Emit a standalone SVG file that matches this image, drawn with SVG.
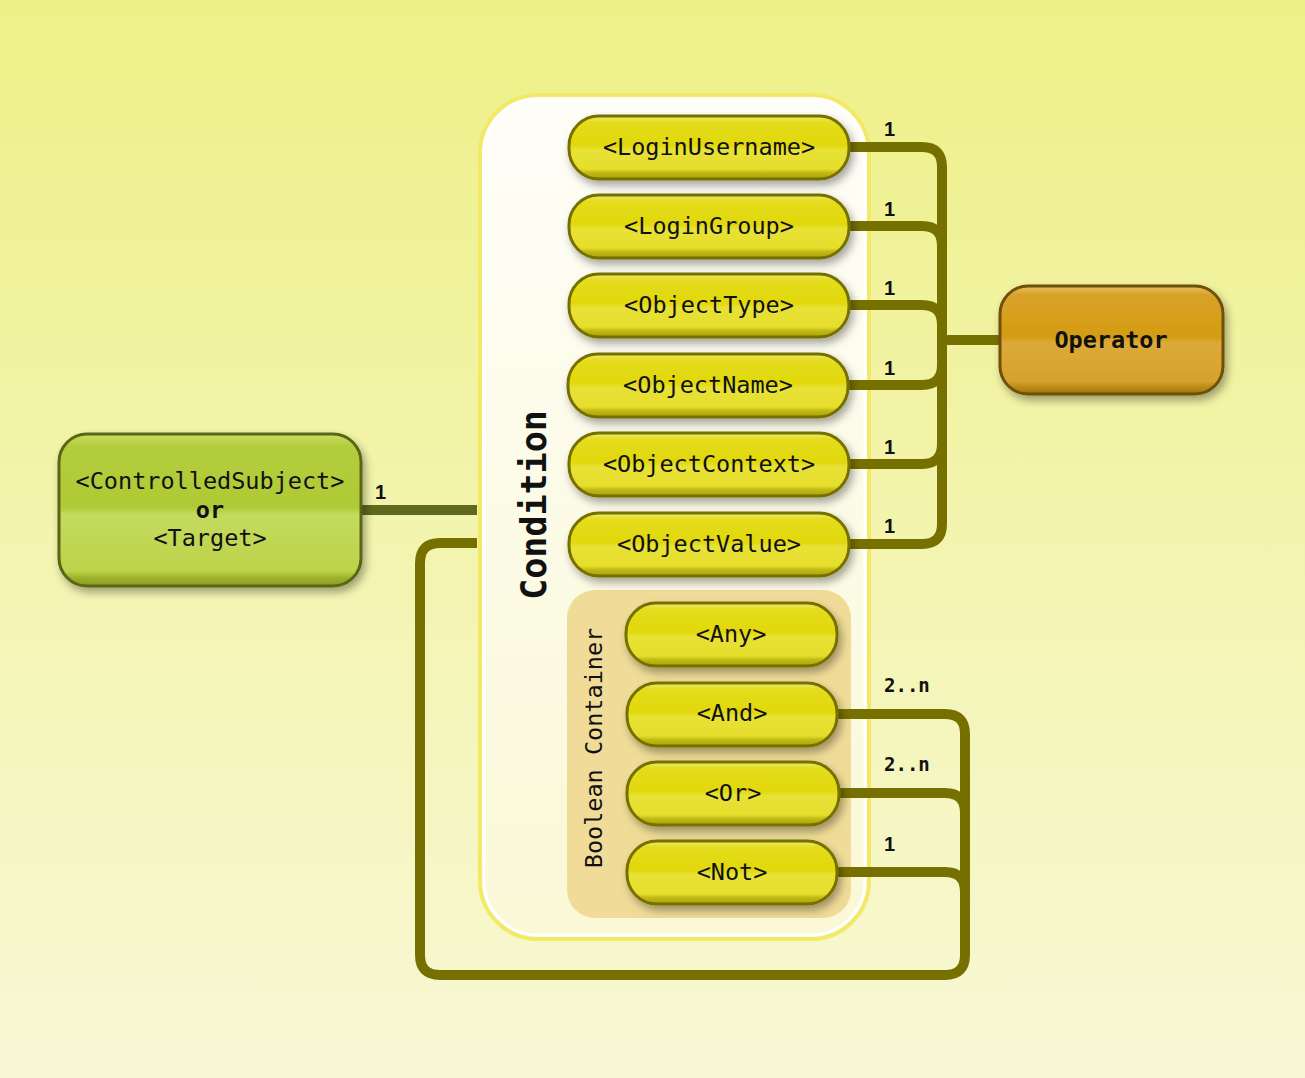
<svg xmlns="http://www.w3.org/2000/svg" width="1305" height="1078" viewBox="0 0 1305 1078">
<defs>
<linearGradient id="bg" x1="0" y1="0" x2="0" y2="1">
<stop offset="0" stop-color="#eef087"/>
<stop offset="1" stop-color="#f8f8d6"/>
</linearGradient>
<linearGradient id="cond" x1="0" y1="0" x2="0" y2="1">
<stop offset="0" stop-color="#fefef8"/>
<stop offset="1" stop-color="#faf8d6"/>
</linearGradient>
<linearGradient id="gy" x1="0" y1="0" x2="0" y2="1">
<stop offset="0" stop-color="#eeea78"/>
<stop offset="0.1" stop-color="#e4dc1c"/>
<stop offset="0.47" stop-color="#e2d80c"/>
<stop offset="0.53" stop-color="#e8e236"/>
<stop offset="0.84" stop-color="#e6de2c"/>
<stop offset="0.9" stop-color="#c2ba14"/>
<stop offset="1" stop-color="#aaa208"/>
</linearGradient>
<linearGradient id="gg" x1="0" y1="0" x2="0" y2="1">
<stop offset="0" stop-color="#c6dc64"/>
<stop offset="0.08" stop-color="#b4cd3e"/>
<stop offset="0.48" stop-color="#b0ca34"/>
<stop offset="0.53" stop-color="#c4da5e"/>
<stop offset="0.9" stop-color="#bcd34a"/>
<stop offset="0.95" stop-color="#9cb02a"/>
<stop offset="1" stop-color="#8a9e20"/>
</linearGradient>
<linearGradient id="go" x1="0" y1="0" x2="0" y2="1">
<stop offset="0" stop-color="#e8c060"/>
<stop offset="0.08" stop-color="#d8a22a"/>
<stop offset="0.47" stop-color="#d49c12"/>
<stop offset="0.53" stop-color="#dcaa3a"/>
<stop offset="0.88" stop-color="#d6a22c"/>
<stop offset="0.94" stop-color="#b88a14"/>
<stop offset="1" stop-color="#9c740c"/>
</linearGradient>
<filter id="sh" x="-20%" y="-30%" width="140%" height="170%">
<feDropShadow dx="3" dy="5" stdDeviation="4" flood-color="#000" flood-opacity="0.35"/>
</filter>
<style>
.pill{fill:url(#gy);stroke:#767000;stroke-width:3;filter:url(#sh)}
.t{font-family:"DejaVu Sans Mono","Liberation Mono",monospace;font-size:23.5px;fill:#111;text-anchor:middle}
.b{font-weight:bold}
.lbl{font-family:"DejaVu Sans Mono","Liberation Mono",monospace;font-size:19px;font-weight:bold;fill:#111}
.one{font-family:"Liberation Sans",Arial,sans-serif;font-size:20px;font-weight:bold;fill:#111}
.wire{fill:none;stroke:#767000;stroke-width:10}
</style>
</defs>
<rect width="1305" height="1078" fill="url(#bg)"/>

<g id="condition-container">
<rect x="480" y="95" width="389" height="844" rx="58" fill="url(#cond)" stroke="#f2ea66" stroke-width="4"/>
<rect x="484" y="99" width="381" height="836" rx="54" fill="none" stroke="#ffffff" stroke-width="3"/>
<text class="t b" style="font-size:35px" transform="translate(546,505) rotate(-90)">Condition</text>
</g>

<g id="boolean-container">
<rect x="567" y="590" width="284" height="328" rx="28" fill="#f0dc98"/>
<text class="t" transform="translate(602,748) rotate(-90)">Boolean Container</text>
</g>

<g id="connectors">
<path class="wire" d="M849,147 H922 Q942,147 942,167 V340 H1001"/>
<path class="wire" d="M849,226 H922 Q942,226 942,246 V340"/>
<path class="wire" d="M849,305 H922 Q942,305 942,325 V340"/>
<path class="wire" d="M849,385 H922 Q942,385 942,365 V340"/>
<path class="wire" d="M849,464 H922 Q942,464 942,444 V340"/>
<path class="wire" d="M849,544 H922 Q942,544 942,524 V340"/>
<path class="wire" d="M837,714 H945 Q965,714 965,734 V955 Q965,975 945,975 H440 Q420,975 420,955 V563 Q420,543 440,543 H477"/>
<path class="wire" d="M839,793 H945 Q965,793 965,813 V900"/>
<path class="wire" d="M837,872 H945 Q965,872 965,892 V930"/>
<path d="M361,510 H477" fill="none" stroke="#5f6a1e" stroke-width="10"/>
<text class="one" x="884" y="136">1</text>
<text class="one" x="884" y="216">1</text>
<text class="one" x="884" y="295">1</text>
<text class="one" x="884" y="375">1</text>
<text class="one" x="884" y="454">1</text>
<text class="one" x="884" y="533">1</text>
<text class="lbl" x="884" y="692">2..n</text>
<text class="lbl" x="884" y="771">2..n</text>
<text class="one" x="884" y="851">1</text>
<text class="one" x="375" y="499">1</text>
</g>

<g id="login-username"><rect class="pill" x="569" y="116" width="280" height="63" rx="30"/><text class="t" x="709" y="155">&lt;LoginUsername&gt;</text></g>
<g id="login-group"><rect class="pill" x="569" y="195" width="280" height="63" rx="30"/><text class="t" x="709" y="234">&lt;LoginGroup&gt;</text></g>
<g id="object-type"><rect class="pill" x="569" y="274" width="280" height="63" rx="30"/><text class="t" x="709" y="313">&lt;ObjectType&gt;</text></g>
<g id="object-name"><rect class="pill" x="568" y="354" width="280" height="63" rx="30"/><text class="t" x="708" y="393">&lt;ObjectName&gt;</text></g>
<g id="object-context"><rect class="pill" x="569" y="433" width="280" height="63" rx="30"/><text class="t" x="709" y="472">&lt;ObjectContext&gt;</text></g>
<g id="object-value"><rect class="pill" x="569" y="513" width="280" height="63" rx="30"/><text class="t" x="709" y="552">&lt;ObjectValue&gt;</text></g>

<g id="any"><rect class="pill" x="626" y="603" width="211" height="63" rx="30"/><text class="t" x="731" y="642">&lt;Any&gt;</text></g>
<g id="and"><rect class="pill" x="627" y="683" width="210" height="63" rx="30"/><text class="t" x="732" y="721">&lt;And&gt;</text></g>
<g id="or"><rect class="pill" x="627" y="762" width="212" height="63" rx="30"/><text class="t" x="733" y="801">&lt;Or&gt;</text></g>
<g id="not"><rect class="pill" x="627" y="841" width="210" height="63" rx="30"/><text class="t" x="732" y="880">&lt;Not&gt;</text></g>

<g id="operator"><rect x="1000" y="286" width="223" height="108" rx="28" fill="url(#go)" stroke="#6e5008" stroke-width="3" filter="url(#sh)"/><text class="t b" x="1111" y="348">Operator</text></g>

<g id="controlled-subject"><rect x="59" y="434" width="302" height="152" rx="28" fill="url(#gg)" stroke="#586612" stroke-width="3" filter="url(#sh)"/>
<text class="t" x="210" y="489">&lt;ControlledSubject&gt;</text>
<text class="t b" x="210" y="518">or</text>
<text class="t" x="210" y="546">&lt;Target&gt;</text></g>
</svg>
